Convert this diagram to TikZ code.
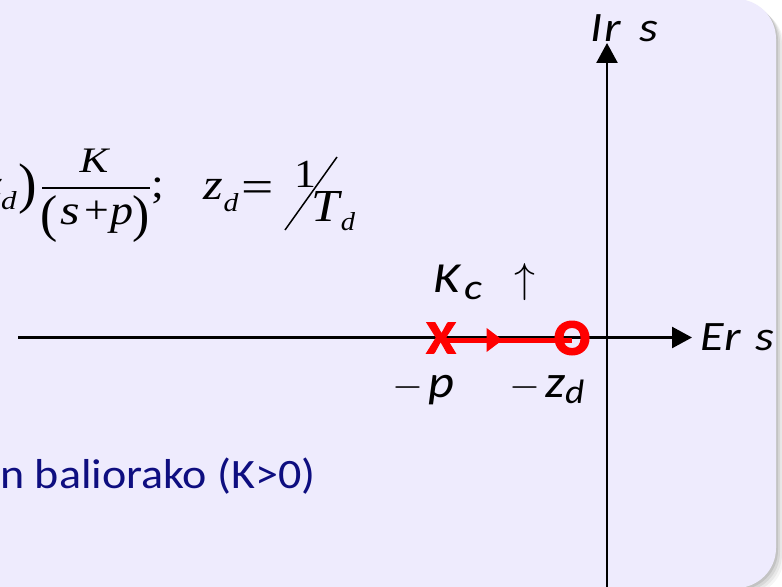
\documentclass[tikz,border=0pt]{standalone}
\usepackage{fontspec}
\setmainfont{Liberation Serif}
\newfontfamily\calfont{Carlito}
\newfontfamily\markfont{Carlito Bold}[FakeBold=2]
\newfontfamily\markfontO{Carlito Bold}[FakeBold=4]
\usetikzlibrary{arrows.meta,decorations.markings}
\definecolor{panelcol}{RGB}{238,235,253}
\definecolor{navytext}{RGB}{14,14,128}
\newcommand\fsz[1]{\fontsize{#1}{#1}\selectfont}
\newcommand\hstr[2]{\scalebox{#1}[1]{#2}}
\tikzset{
  axisline/.style={line width=2.5bp,-{Triangle[length=20bp,width=21bp]}},
  lbl/.style={inner sep=0pt,anchor=base west,font=\calfont\itshape\fsz{42}},
  fm/.style={inner sep=0pt,anchor=base},
  redmark/.style={inner sep=0pt,text=red,font=\markfont\fsz{48}},
}
\begin{document}
\begin{tikzpicture}[x=1bp,y=-1bp]
\useasboundingbox (0,0) rectangle (782,587);
\clip (0,0) rectangle (782,587);
\fill[white] (0,0) rectangle (782,587);
% shadow
\foreach \d/\o in {8/0.04,6/0.05,4/0.07,2/0.09}
  \fill[black,opacity=\o,rounded corners=40bp] (-80+\d,-1+\d) rectangle (776+\d,588+\d);
% panel
\fill[panelcol,rounded corners=40bp] (-80,-1) rectangle (776,588);

% axes
\coordinate (hs) at (18,337.5);
\coordinate (he) at (692,337.5);
\coordinate (vs) at (607,600);
\coordinate (ve) at (607,43);
\draw[axisline] (hs) -- (he);
\draw[axisline] (vs) -- (ve);
\node[lbl] (er) at (700,350) {\hstr{1.15}{E\hspace{0.02em}r\hspace{0.3em}s}};
\node[lbl] (ir) at (590,42) {\hstr{1.15}{I\hspace{0.04em}r\hspace{0.38em}s}};

% root locus
\coordinate (pole) at (441,338);
\coordinate (zero) at (572,338);
\draw[red,line width=5bp,decoration={markings,mark=at position 0.47 with {\arrow{Triangle[length=16bp,width=23bp]}}},postaction={decorate}]
  ([yshift=-2bp]pole) -- ([yshift=-2bp]zero);
\node[redmark] (px) at (pole) {\hstr{1.12}{X}};
\node[redmark,font=\markfontO\fsz{50}] (oz) at (zero) {\hstr{1.05}{O}};

\node[lbl,font=\calfont\itshape\fsz{43}] (kc) at (433,292) {\hstr{1.2}{K\hspace{0.08em}\raisebox{-7bp}{\fsz{36}c}}};
\node[fm,font=\fsz{10}] (up) at (525,292) {\scalebox{4.2}{$\uparrow$}};
\node[fm,font=\fsz{10}] (m1) at (408,397) {\scalebox{4}{$-$}};
\node[lbl,font=\calfont\itshape\fsz{46}] (mp) at (428,397) {\hstr{1.1}{p}};
\node[fm,font=\fsz{10}] (m2) at (525,397) {\scalebox{4}{$-$}};
\node[lbl,font=\calfont\itshape\fsz{46}] (mz) at (545,397) {\hstr{1.1}{z\raisebox{-6bp}{\fsz{34}d}}};

% formula
\node[fm,anchor=base east,font=\itshape\fsz{44}] (f1) at (3,200) {\hstr{1.2}{z}};
\node[fm,font=\itshape\fsz{26}] (f2) at (9,210) {\hstr{1.2}{d}};
\node[fm,font=\fsz{56}] (f3) at (28,203) {)};
\node[fm,font=\itshape\fsz{36}] (fk) at (94,173) {\hstr{1.2}{K}};
\draw[line width=1.5bp] (42,188) -- (150,188);
\node[fm,font=\fsz{52}] (fl) at (49,232) {(};
\node[fm,font=\itshape\fsz{42}] (fs) at (70,225) {\hstr{1.2}{s}};
\node[fm,font=\fsz{40}] (fp) at (97,224) {\hstr{1.1}{+}};
\node[fm,font=\itshape\fsz{42}] (fpp) at (122,225) {\hstr{1.1}{p}};
\node[fm,font=\fsz{52}] (fr) at (141,232) {)};
\node[fm,font=\fsz{42}] (fsemi) at (158,198) {\hstr{1.1}{;}};
\node[fm,font=\itshape\fsz{44}] (z) at (213,200) {\hstr{1.15}{z}};
\node[fm,font=\itshape\fsz{26}] (zd) at (231,212) {\hstr{1.15}{d}};
\node[fm,font=\fsz{46}] (eq) at (258,203) {\hstr{1.25}{=}};
\node[fm,font=\fsz{40}] (one) at (305,188) {\hstr{1.1}{1}};
\draw[line width=1.5bp] (285,230) -- (337,157);
\node[fm,font=\itshape\fsz{46}] (T) at (326,222) {\hstr{1.1}{T}};
\node[fm,font=\itshape\fsz{26}] (Td) at (348,231) {\hstr{1.1}{d}};

% bottom text
\node[inner sep=0pt,anchor=base east,text=navytext,font=\calfont\fsz{42}] (bt) at (316,488) {\hstr{1.1}{n baliorako (K>0)}};
\end{tikzpicture}
\end{document}
